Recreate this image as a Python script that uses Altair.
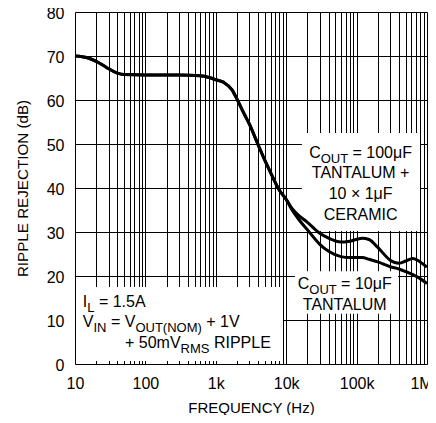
import altair as alt
import pandas as pd

FONT = "Liberation Sans, Arial, sans-serif"

# ---- data ----
freq_common = [10, 15, 20, 28, 40, 50, 100, 300, 600, 800, 1000, 1300, 1700,
               2000, 2500, 3000, 4000, 5000, 6000, 8000, 10000]
db_common = [70.0, 69.6, 68.8, 67.4, 66.1, 65.8, 65.7, 65.7, 65.5, 65.1, 64.6,
             64.0, 62.3, 60.2, 57.0, 54.5, 49.8, 46.2, 43.5, 39.5, 37.4]
freq_tail = [12000, 15000, 20000, 30000, 40000, 60000, 80000, 120000, 150000,
             200000, 300000, 400000, 500000, 630000, 800000, 1000000]
db_100uf = [35.4, 33.8, 32.2, 29.7, 28.6, 27.7, 27.9, 28.6, 28.3, 26.5, 23.6,
            22.9, 23.4, 24.0, 23.2, 22.0]
db_10uf = [35.1, 32.9, 30.5, 27.2, 25.6, 24.4, 24.2, 24.2, 23.8, 23.2, 22.1,
           21.6, 21.0, 20.3, 19.4, 18.3]

x_tick_values = [m * 10 ** e for e in range(1, 6) for m in range(1, 10)] + [1000000]
x_label_values = [10, 100, 1000, 10000, 100000, 1000000]
x_label_texts = ["10", "100", "1k", "10k", "100k", "1M"]
y_tick_values = [0, 10, 20, 30, 40, 50, 60, 70, 80]

# white annotation boxes (data units)
box_f1 = [10.35, 16700, 13300]
box_f2 = [9000, 795000, 387000]
box_d1 = [0.7, 30.2, 11.4]
box_d2 = [17.5, 52.5, 21.1]

rows = []
for f, d in zip(freq_common, db_common):
    rows.append({"freq": f, "db": d, "series": "100uF"})
    rows.append({"freq": f, "db": d, "series": "10uF"})
for f, d in zip(freq_tail, db_100uf):
    rows.append({"freq": f, "db": d, "series": "100uF"})
for f, d in zip(freq_tail, db_10uf):
    rows.append({"freq": f, "db": d, "series": "10uF"})
curves = pd.DataFrame(rows)

label_expr = " : ".join(
    f"datum.value == {v} ? '{t}'" for v, t in zip(x_label_values, x_label_texts)
) + " : ''"

xscale = alt.Scale(type="log", domain=[10, 1000000], nice=False)
yscale = alt.Scale(domain=[0, 80], nice=False)

x_axis = alt.Axis(values=x_tick_values, labelExpr=label_expr, labelOverlap=False,
                  labelFlush=False, grid=True, gridColor="black", gridWidth=1,
                  gridOpacity=1, ticks=False, domain=False, labelFontSize=16,
                  labelColor="black", labelPadding=11, labelFont=FONT,
                  labelOffset={"condition": {"test": "datum.value == 1000000",
                                             "value": -6}, "value": 0},
                  title="FREQUENCY (Hz)", titleFont=FONT, titleFontSize=15,
                  titleFontWeight="normal", titleColor="black", titleY=48,
                  titleBaseline="alphabetic")
y_axis = alt.Axis(values=y_tick_values, grid=True, gridColor="black", gridWidth=1,
                  gridOpacity=1, ticks=False, domain=False, labelFontSize=16,
                  labelColor="black", labelPadding=11, labelFont=FONT,
                  labelOffset=1.5,
                  title="RIPPLE REJECTION (dB)", titleFont=FONT,
                  titleFontSize=15.2, titleFontWeight="normal", titleColor="black",
                  titleAngle=-90, titleX=-48, titleY=176, titleAlign="center",
                  titleBaseline="alphabetic")

X = alt.X("freq:Q", scale=xscale, axis=x_axis)
Y = alt.Y("db:Q", scale=yscale, axis=y_axis)

boxes = alt.Chart(pd.DataFrame({"freq": box_f1, "freq2": box_f2,
                                "db": box_d1, "db2": box_d2})).mark_rect(
    fill="white", strokeWidth=0).encode(x=X, x2="freq2:Q", y=Y, y2="db2:Q")

lines = alt.Chart(curves).mark_line(color="black", strokeWidth=3,
                                    interpolate="monotone", strokeJoin="round").encode(
    x=X, y=Y, detail="series:N", order="freq:Q")

MAIN = 16
SUB = 13


def txt(f, d, s, dx=0, dy=0, size=MAIN, align="left"):
    lines_ = s if isinstance(s, list) else [s]
    return alt.Chart(pd.DataFrame({"freq": [f], "db": [d], "t": [lines_]})).mark_text(
        align=align, baseline="alphabetic", dx=dx, dy=dy, fontSize=size, font=FONT,
        color="black", lineHeight=20.7).encode(x=X, y=Y, text="t")


texts = [
    # C_OUT = 100uF / TANTALUM + / 10 x 1uF / CERAMIC
    txt(114000, 46.9, "C", dx=-51.4),
    txt(114000, 46.9, "OUT", dx=-39.9, dy=5, size=SUB),
    txt(114000, 46.9, "= 100\u03bcF", dx=-8.1),
    txt(114000, 42.2, ["TANTALUM +", "10 \u00d7 1\u03bcF", "CERAMIC"], align="center"),
    # C_OUT = 10uF / TANTALUM
    txt(67800, 17.05, "C", dx=-47.0),
    txt(67800, 17.05, "OUT", dx=-35.4, dy=5, size=SUB),
    txt(67800, 17.05, "= 10\u03bcF", dx=-3.6),
    txt(67800, 12.27, "TANTALUM", align="center"),
    # I_L = 1.5A
    txt(12.9, 13.0, "I"),
    txt(12.9, 13.0, "L", dx=4.45, dy=5, size=SUB),
    txt(12.9, 13.0, "= 1.5A", dx=16.1),
    # V_IN = V_OUT(NOM) + 1V
    txt(12.9, 8.4, "V"),
    txt(12.9, 8.4, "IN", dx=10.7, dy=5, size=SUB),
    txt(12.9, 8.4, "= V", dx=28.1),
    txt(12.9, 8.4, "OUT(NOM)", dx=52.6, dy=5, size=SUB),
    txt(12.9, 8.4, "+ 1V", dx=123.5),
    # + 50mV_RMS RIPPLE
    txt(51.3, 3.6, "+ 50mV"),
    txt(51.3, 3.6, "RMS", dx=55.6, dy=5, size=SUB),
    txt(51.3, 3.6, "RIPPLE", dx=88.9),
]

chart = alt.layer(boxes, lines, *texts).properties(
    width=352, height=352,
    padding={"left": 67, "top": 4, "right": 1, "bottom": 51},
    autosize=alt.AutoSizeParams(type="none"),
    background="white",
).configure_view(stroke="black", strokeWidth=2).configure(font=FONT)

chart.save("out.html", embed_options={"renderer": "svg", "actions": False})
